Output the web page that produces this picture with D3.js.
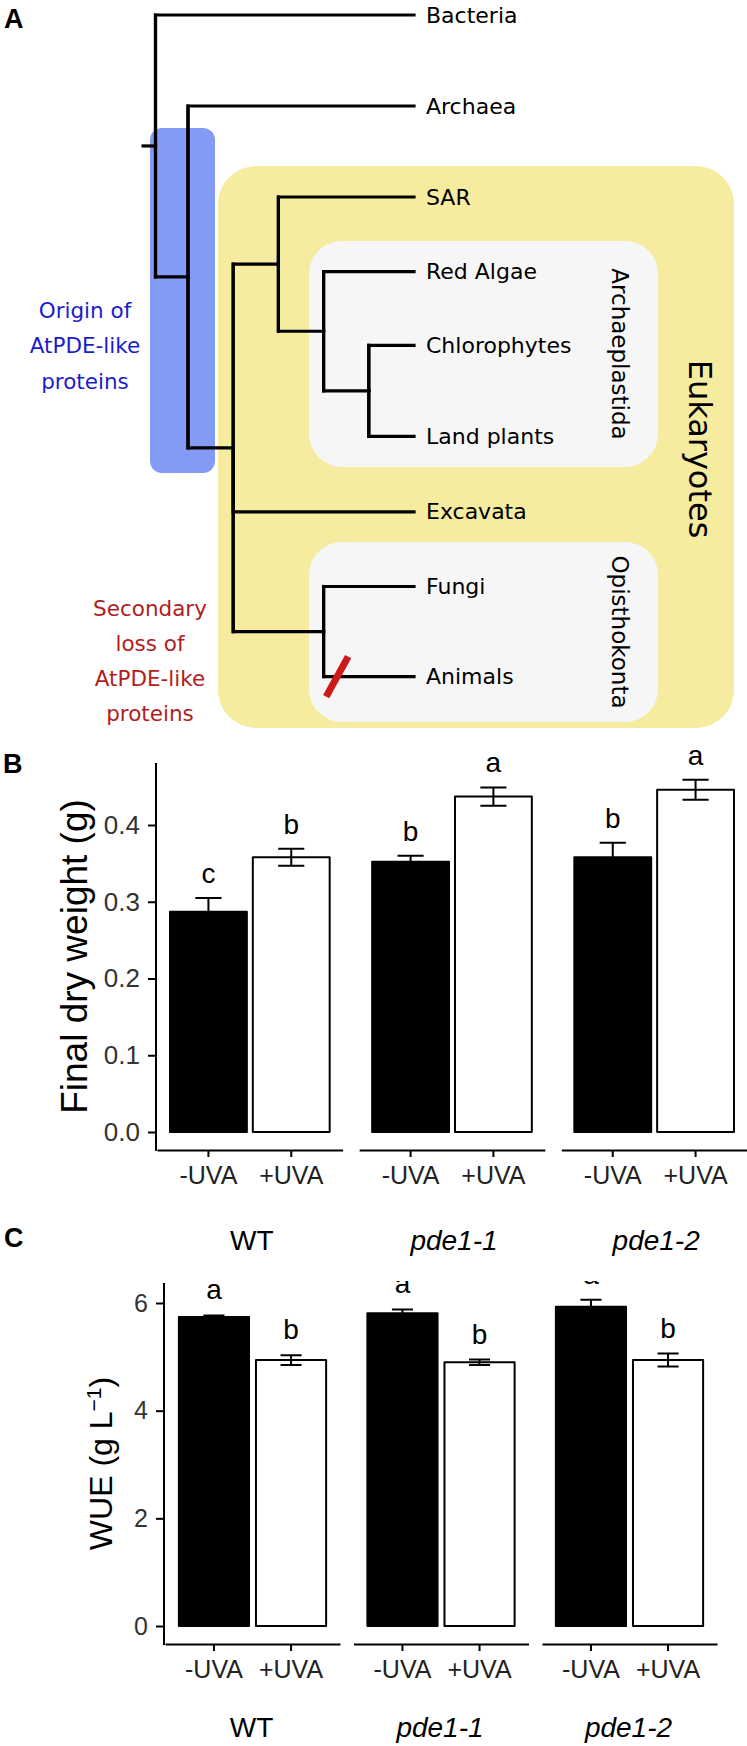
<!DOCTYPE html>
<html><head><meta charset="utf-8">
<script src="https://cdn.jsdelivr.net/npm/d3@7"></script>
<style>body{margin:0;background:#fff}svg{display:block}</style>
</head><body>
<svg id="fig" width="747" height="1746"></svg>
<script>
// ---------- Panel A: tree data ----------
const treeNodes = [
  {id:"root", parent:null, depth:0},
  {id:"Bacteria", parent:"root"},
  {id:"n1", parent:"root", depth:1},
  {id:"Archaea", parent:"n1"},
  {id:"euk", parent:"n1", depth:2},
  {id:"n3", parent:"euk", depth:3},
  {id:"SAR", parent:"n3"},
  {id:"arch", parent:"n3", depth:4},
  {id:"Red Algae", parent:"arch"},
  {id:"n5", parent:"arch", depth:5},
  {id:"Chlorophytes", parent:"n5"},
  {id:"Land plants", parent:"n5"},
  {id:"Excavata", parent:"euk"},
  {id:"opis", parent:"euk", depth:4},
  {id:"Fungi", parent:"opis"},
  {id:"Animals", parent:"opis"}
];
const leafNames = ["Bacteria","Archaea","SAR","Red Algae","Chlorophytes","Land plants","Excavata","Fungi","Animals"];
const leafRows  = [0, 1, 2, 2.82, 3.63, 4.63, 5.46, 6.28, 7.27];
const leafDepth = 6;
const cladeLabels = ["Archaeplastida","Opisthokonta","Eukaryotes"];
const originText = ["Origin of","AtPDE-like","proteins"];
const lossText = ["Secondary","loss of","AtPDE-like","proteins"];

// ---------- Panels B & C data ----------
const genotypes = ["WT","pde1-1","pde1-2"];
const treatments = ["-UVA","+UVA"];
const dryWeight   = [[0.287,0.358],[0.352,0.437],[0.358,0.446]];
const dryWeightSE = [[0.018,0.011],[0.008,0.012],[0.019,0.013]];
const dryLetters  = [["c","b"],["b","a"],["b","a"]];
const dryTicks = [0,0.1,0.2,0.3,0.4];
const wue   = [[5.74,4.94],[5.81,4.90],[5.93,4.94]];
const wueSE = [[0.03,0.09],[0.07,0.05],[0.13,0.12]];
const wueLetters = [["a","b"],["a","b"],["a","b"]];
const wueTicks = [0,2,4,6];

const svg = d3.select("#fig");
const TF = "DejaVu Sans, Verdana, sans-serif";
const CF = "Liberation Sans, Arial, sans-serif";

// ---------- Panel A ----------
const gA = svg.append("g");
gA.append("rect").attr("x",218).attr("y",166).attr("width",516).attr("height",562).attr("rx",38).attr("fill","#f6ec9f");
gA.append("rect").attr("x",150).attr("y",128).attr("width",65).attr("height",345).attr("rx",12).attr("fill","#839bf4");
gA.append("rect").attr("x",309).attr("y",241).attr("width",349).attr("height",226).attr("rx",33).attr("fill","#f6f6f6");
gA.append("rect").attr("x",309).attr("y",542).attr("width",349).attr("height",180).attr("rx",33).attr("fill","#f6f6f6");

const xT = d3.scaleLinear().domain([0,1,6]).range([155.5,188,414]);
const yT = d3.scaleLinear().domain([0,1]).range([15,106]);
const root = d3.stratify().id(d=>d.id).parentId(d=>d.parent)(treeNodes);
root.eachAfter(n=>{
  if(!n.children){ n.tx = xT(leafDepth); n.ty = yT(leafRows[leafNames.indexOf(n.id)]); }
  else { n.tx = xT(n.data.depth); const ys=n.children.map(c=>c.ty); n.ty=(d3.min(ys)+d3.max(ys))/2; }
});
gA.selectAll("path.link").data(root.links()).join("path")
  .attr("d",l=>`M${l.source.tx},${l.source.ty}V${l.target.ty}H${l.target.tx}`)
  .attr("fill","none").attr("stroke","#000").attr("stroke-width",3.2).attr("stroke-linecap","square");
gA.append("path").attr("d",`M${root.tx-14},${root.ty}H${root.tx}`).attr("stroke","#000").attr("stroke-width",3.2);
root.descendants().filter(n=>n.children).forEach(n=>{
  const ys=n.children.map(c=>c.ty);
  gA.append("path").attr("d",`M${n.tx},${d3.min(ys)}V${d3.max(ys)}`).attr("stroke","#000").attr("stroke-width",3.2).attr("stroke-linecap","square");
});
gA.selectAll("text.leaf").data(root.leaves()).join("text")
  .attr("x",d=>d.tx+12).attr("y",d=>d.ty).attr("dominant-baseline","central")
  .attr("font-family",TF).attr("font-size",22).attr("fill","#000").text(d=>d.id);
// loss marker on Animals branch
const animals = root.leaves().find(d=>d.id==="Animals");
const mx = xT(4.3), my = animals.ty;
gA.append("line").attr("x1",mx-11).attr("y1",my+20).attr("x2",mx+11).attr("y2",my-20)
  .attr("stroke","#cc1a1a").attr("stroke-width",7);
[[cladeLabels[0],620,354,23],[cladeLabels[1],620,632,23],[cladeLabels[2],700,449,32]].forEach(([t,x,y,s])=>{
  gA.append("text").attr("transform",`translate(${x},${y}) rotate(90)`).attr("text-anchor","middle")
    .attr("dominant-baseline","central").attr("font-family",TF).attr("font-size",s).attr("fill","#000").text(t);
});
originText.forEach((t,i)=>gA.append("text").attr("x",85).attr("y",310+i*35.5).attr("text-anchor","middle")
  .attr("dominant-baseline","central").attr("font-family",TF).attr("font-size",21.5).attr("fill","#1c1ccc").text(t));
lossText.forEach((t,i)=>gA.append("text").attr("x",150).attr("y",608+i*35).attr("text-anchor","middle")
  .attr("dominant-baseline","central").attr("font-family",TF).attr("font-size",21.5).attr("fill","#b01e1e").text(t));

[["A",4,28],["B",3,773],["C",4,1247]].forEach(([t,x,y])=>svg.append("text").attr("x",x).attr("y",y)
  .attr("font-family",CF).attr("font-weight","bold").attr("font-size",27).attr("fill","#000").text(t));

// ---------- bar panel function ----------
function barPanel(o){
  const g = svg.append("g");
  const y = d3.scaleLinear().domain(o.yDomain).range(o.yRange);
  const fx = d3.scaleBand().domain(genotypes).range(o.facetRange).paddingInner(o.facetPad);
  const ix = d3.scaleBand().domain(treatments).range([0,fx.bandwidth()]).paddingInner(o.pi).paddingOuter(o.po);
  const clipId = "clip"+o.name;
  g.append("clipPath").attr("id",clipId).append("rect").attr("x",0).attr("y",o.clipTop).attr("width",747).attr("height",o.axisY-o.clipTop+2);
  const pg = g.append("g").attr("clip-path",`url(#${clipId})`);
  const cells = [];
  genotypes.forEach((gt,gi)=>treatments.forEach((tr,ti)=>cells.push({gt,tr,gi,ti,v:o.values[gi][ti],se:o.se[gi][ti],lab:o.letters[gi][ti]})));
  const bx = d=>fx(d.gt)+ix(d.tr);
  pg.selectAll("rect.bar").data(cells).join("rect")
    .attr("x",bx).attr("width",ix.bandwidth()).attr("y",d=>y(d.v)).attr("height",d=>y(0)-y(d.v))
    .attr("fill",d=>d.ti===0?"#000":"#fff").attr("stroke","#000").attr("stroke-width",2).attr("stroke-linejoin","round");
  const cw = ix.bandwidth()*o.capFrac/2;
  pg.selectAll("path.err").data(cells).join("path")
    .attr("d",d=>{const cx=bx(d)+ix.bandwidth()/2, t=y(d.v+d.se), b=y(d.v-d.se);
      return `M${cx-cw},${t}H${cx+cw}M${cx},${t}V${b}M${cx-cw},${b}H${cx+cw}`;})
    .attr("fill","none").attr("stroke","#000").attr("stroke-width",2);
  pg.selectAll("text.sig").data(cells).join("text")
    .attr("x",d=>bx(d)+ix.bandwidth()/2).attr("y",d=>y(d.v+d.se)-o.labOff).attr("text-anchor","middle")
    .attr("font-family",CF).attr("font-size",28).attr("fill","#000").text(d=>d.lab);
  const ya = g.append("g").attr("transform",`translate(${o.facetRange[0]-1},0)`)
    .call(d3.axisLeft(y).tickValues(o.ticks).tickFormat(o.fmt).tickSize(8).tickPadding(8));
  ya.select(".domain").remove();
  ya.selectAll(".tick line").attr("stroke","#000").attr("stroke-width",2);
  ya.selectAll(".tick text").attr("font-family",CF).attr("font-size",o.tickFont).attr("fill","#333");
  g.append("line").attr("x1",o.facetRange[0]-1).attr("x2",o.facetRange[0]-1).attr("y1",o.axisTop).attr("y2",o.axisY+1)
    .attr("stroke","#000").attr("stroke-width",2);
  genotypes.forEach(gt=>{
    const xa = g.append("g").attr("transform",`translate(${fx(gt)},${o.axisY})`)
      .call(d3.axisBottom(ix).tickSize(7).tickSizeOuter(0).tickPadding(9));
    xa.select(".domain").attr("stroke","#000").attr("stroke-width",2);
    xa.selectAll(".tick line").attr("stroke","#000").attr("stroke-width",2);
    xa.selectAll(".tick text").attr("font-family",CF).attr("font-size",25).attr("fill","#222");
    g.append("text").attr("x",fx(gt)+fx.bandwidth()/2+o.gOff).attr("y",o.groupY).attr("text-anchor","middle")
      .attr("dominant-baseline","central").attr("font-family",CF).attr("font-size",28)
      .attr("font-style",gt==="WT"?"normal":"italic").attr("fill","#000").text(gt);
  });
  const tt = g.append("text").attr("transform",`translate(${o.titleX},${(o.axisTop+o.axisY)/2}) rotate(-90)`)
    .attr("text-anchor","middle").attr("font-family",CF).attr("font-size",o.titleFont).attr("fill","#000");
  o.title(tt);
}

barPanel({name:"B", values:dryWeight, se:dryWeightSE, letters:dryLetters, ticks:dryTicks, fmt:d3.format(".1f"),
  yDomain:[0,0.4], yRange:[1132,825], facetRange:[157,747], facetPad:0.0815, pi:0.072, po:0.157, capFrac:0.34,
  clipTop:700, axisTop:763, axisY:1150, labOff:15, tickFont:26, groupY:1240, gOff:2, titleX:87, titleFont:37,
  title:t=>t.text("Final dry weight (g)")});

barPanel({name:"C", values:wue, se:wueSE, letters:wueLetters, ticks:wueTicks, fmt:d3.format("d"),
  yDomain:[0,6], yRange:[1626,1303], facetRange:[165,717], facetPad:0.0716, pi:0.09, po:0.18, capFrac:0.3,
  clipTop:1281, axisTop:1283, axisY:1644, labOff:16, tickFont:25, groupY:1727, gOff:-1, titleX:112, titleFont:32,
  title:t=>{t.append("tspan").text("WUE (g L");
    t.append("tspan").attr("dy",-11).attr("font-size",21).text("\u22121");
    t.append("tspan").attr("dy",11).text(")");}});
</script>
</body></html>
